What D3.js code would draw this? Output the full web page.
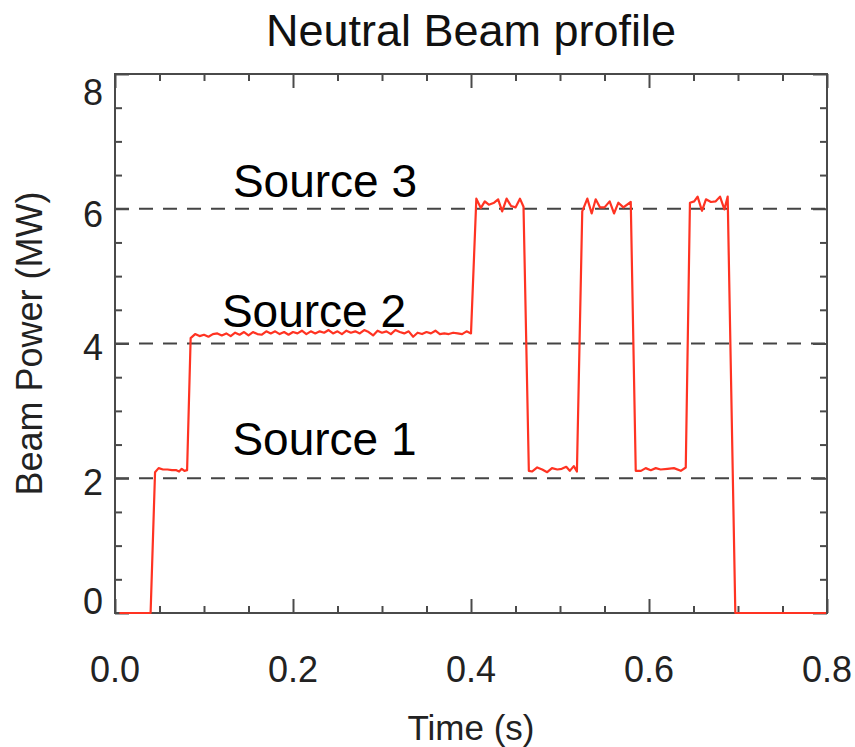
<!DOCTYPE html>
<html><head><meta charset="utf-8">
<script src="https://cdn.jsdelivr.net/npm/d3@7"></script>
<style>body{margin:0;background:#fff}svg{display:block}</style></head>
<body><svg id="c" width="855" height="747"></svg>
<script>
// ---- data ----
const xMajorTicks = [0, 0.2, 0.4, 0.6, 0.8];
const xTickLabels = ["0.0", "0.2", "0.4", "0.6", "0.8"];
const yMajorTicks = [0, 2, 4, 6, 8];
const yTickLabels = ["0", "2", "4", "6", "8"];
const sourceLevels = [2, 4, 6];
const sourceNames = ["Source 1", "Source 2", "Source 3"];
// [time (s), beam power (MW)]
const beamSamples = [
  [0.005,0],[0.040,0],
  [0.045,2.09],[0.049,2.15],[0.054,2.13],[0.059,2.13],[0.064,2.12],[0.069,2.12],[0.072,2.10],[0.075,2.14],[0.078,2.11],[0.081,2.12],
  [0.085,4.08],[0.090,4.14],[0.095,4.11],[0.100,4.13],[0.105,4.10],[0.110,4.14],[0.115,4.15],[0.120,4.12],[0.125,4.15],[0.130,4.11],
  [0.135,4.16],[0.140,4.13],[0.145,4.17],[0.150,4.12],[0.155,4.17],[0.160,4.14],[0.165,4.13],[0.170,4.18],[0.175,4.15],[0.180,4.18],
  [0.185,4.14],[0.190,4.17],[0.195,4.13],[0.200,4.17],[0.205,4.15],[0.210,4.19],[0.215,4.14],[0.220,4.18],[0.225,4.15],[0.230,4.18],
  [0.235,4.16],[0.240,4.20],[0.245,4.15],[0.250,4.18],[0.255,4.14],[0.260,4.19],[0.265,4.16],[0.270,4.18],[0.275,4.15],[0.280,4.20],
  [0.285,4.17],[0.290,4.12],[0.295,4.19],[0.300,4.16],[0.305,4.18],[0.310,4.14],[0.315,4.20],[0.320,4.17],[0.325,4.15],[0.330,4.18],
  [0.335,4.10],[0.340,4.16],[0.345,4.14],[0.350,4.17],[0.355,4.15],[0.360,4.19],[0.365,4.14],[0.370,4.15],[0.375,4.14],[0.380,4.16],
  [0.385,4.15],[0.390,4.14],[0.395,4.18],[0.400,4.15],
  [0.406,6.15],[0.411,6.01],[0.4155,6.11],[0.420,6.06],[0.426,6.09],[0.4305,6.14],[0.435,5.96],[0.440,6.15],[0.445,6.04],[0.450,6.02],
  [0.455,6.15],[0.459,6.03],
  [0.465,2.11],[0.4685,2.10],[0.4744,2.16],[0.480,2.13],[0.4856,2.09],[0.491,2.15],[0.497,2.13],[0.502,2.14],[0.507,2.17],[0.511,2.11],
  [0.5155,2.18],[0.519,2.10],
  [0.525,5.96],[0.5307,6.15],[0.5356,5.93],[0.5401,6.14],[0.545,6.02],[0.550,6.02],[0.5558,6.11],[0.5607,5.93],[0.5656,6.09],[0.5712,6.02],
  [0.5795,6.10],
  [0.5851,2.11],[0.591,2.11],[0.5963,2.15],[0.602,2.12],[0.6076,2.15],[0.613,2.13],[0.6208,2.14],[0.628,2.15],[0.6357,2.11],[0.6413,2.16],
  [0.646,6.09],[0.6508,6.11],[0.6546,6.18],[0.6595,5.97],[0.664,6.14],[0.6696,6.10],[0.675,6.11],[0.6798,6.18],[0.6847,5.99],[0.6884,6.18],
  [0.697,0],[0.799,0]
];

// ---- layout ----
const W = 855, H = 747;
const M = {left: 115, right: 827, top: 74, bottom: 613};
const font = "'Liberation Sans', Arial, Helvetica, sans-serif";
const axisColor = "#4a4a4a";

const svg = d3.select("#c");
svg.append("rect").attr("width", W).attr("height", H).attr("fill", "#fff");

const x = d3.scaleLinear().domain([0, 0.8]).range([M.left, M.right]);
const y = d3.scaleLinear().domain([0, 8]).range([M.bottom, M.top]);

// dashed source levels
svg.append("g").selectAll("line").data(sourceLevels).join("line")
  .attr("x1", M.left).attr("x2", M.right)
  .attr("y1", d => y(d)).attr("y2", d => y(d))
  .attr("stroke", "#444").attr("stroke-width", 2)
  .attr("stroke-dasharray", "14,10");

// axes (inward ticks)
const xMinor = d3.range(0, 0.8001, 0.05).filter(v => !xMajorTicks.some(m => Math.abs(m - v) < 1e-6));
const yMinor = d3.range(0, 8.001, 0.5).filter(v => !yMajorTicks.some(m => Math.abs(m - v) < 1e-6));

function styleAxis(g) {
  g.select(".domain").remove();
  g.selectAll(".tick line").attr("stroke", axisColor).attr("stroke-width", 2);
  g.selectAll("text").remove();
}
const noFmt = () => "";
const axes = [
  [d3.axisBottom(x), M.bottom, "y", xMinor, xMajorTicks],
  [d3.axisTop(x), M.top, "y", xMinor, xMajorTicks],
  [d3.axisLeft(y), M.left, "x", yMinor, yMajorTicks],
  [d3.axisRight(y), M.right, "x", yMinor, yMajorTicks]
];
axes.forEach(([ax, pos, dir, minor, major]) => {
  const tr = dir === "y" ? `translate(0,${pos})` : `translate(${pos},0)`;
  svg.append("g").attr("transform", tr)
    .call(ax.tickValues(minor).tickSize(-7).tickFormat(noFmt)).call(styleAxis);
  svg.append("g").attr("transform", tr)
    .call(ax.tickValues(major).tickSize(-14).tickFormat(noFmt)).call(styleAxis);
});

// frame
svg.append("rect").attr("x", M.left).attr("y", M.top)
  .attr("width", M.right - M.left).attr("height", M.bottom - M.top)
  .attr("fill", "none").attr("stroke", axisColor).attr("stroke-width", 2);

// beam power line (drawn over the frame)
const line = d3.line().x(d => x(d[0])).y(d => y(d[1]));
svg.append("path").datum(beamSamples)
  .attr("d", line).attr("fill", "none")
  .attr("stroke", "#ff3322").attr("stroke-width", 2.2)
  .attr("stroke-linejoin", "round");

// tick labels
svg.append("g").selectAll("text").data(xMajorTicks).join("text")
  .attr("x", d => x(d)).attr("y", 682)
  .attr("text-anchor", "middle").attr("font-family", font).attr("font-size", 36)
  .attr("fill", "#222").text((d, i) => xTickLabels[i]);

const yLabelShift = [-11.5, 4, 4, 5, 18];
svg.append("g").selectAll("text").data(yMajorTicks).join("text")
  .attr("x", 103).attr("y", (d, i) => y(d) + yLabelShift[i])
  .attr("dy", "0.36em")
  .attr("text-anchor", "end").attr("font-family", font).attr("font-size", 36)
  .attr("fill", "#222").text((d, i) => yTickLabels[i]);

// axis titles
svg.append("text").attr("x", (M.left + M.right) / 2).attr("y", 740)
  .attr("text-anchor", "middle").attr("font-family", font).attr("font-size", 35)
  .attr("fill", "#222").text("Time (s)");
svg.append("text").attr("transform", `translate(42,${(M.top + M.bottom) / 2}) rotate(-90)`)
  .attr("text-anchor", "middle").attr("font-family", font).attr("font-size", 36)
  .attr("fill", "#222").text("Beam Power (MW)");

// title
svg.append("text").attr("x", 471).attr("y", 46)
  .attr("text-anchor", "middle").attr("font-family", font).attr("font-size", 45)
  .attr("fill", "#111").text("Neutral Beam profile");

// source labels
const labelCenterX = [324.5, 314, 325];
const labelBaseY = [455, 327, 197];
svg.append("g").selectAll("text").data(sourceNames).join("text")
  .attr("x", (d, i) => labelCenterX[i]).attr("y", (d, i) => labelBaseY[i])
  .attr("text-anchor", "middle").attr("font-family", font).attr("font-size", 46)
  .attr("fill", "#000").text(d => d);
</script>
</body></html>
